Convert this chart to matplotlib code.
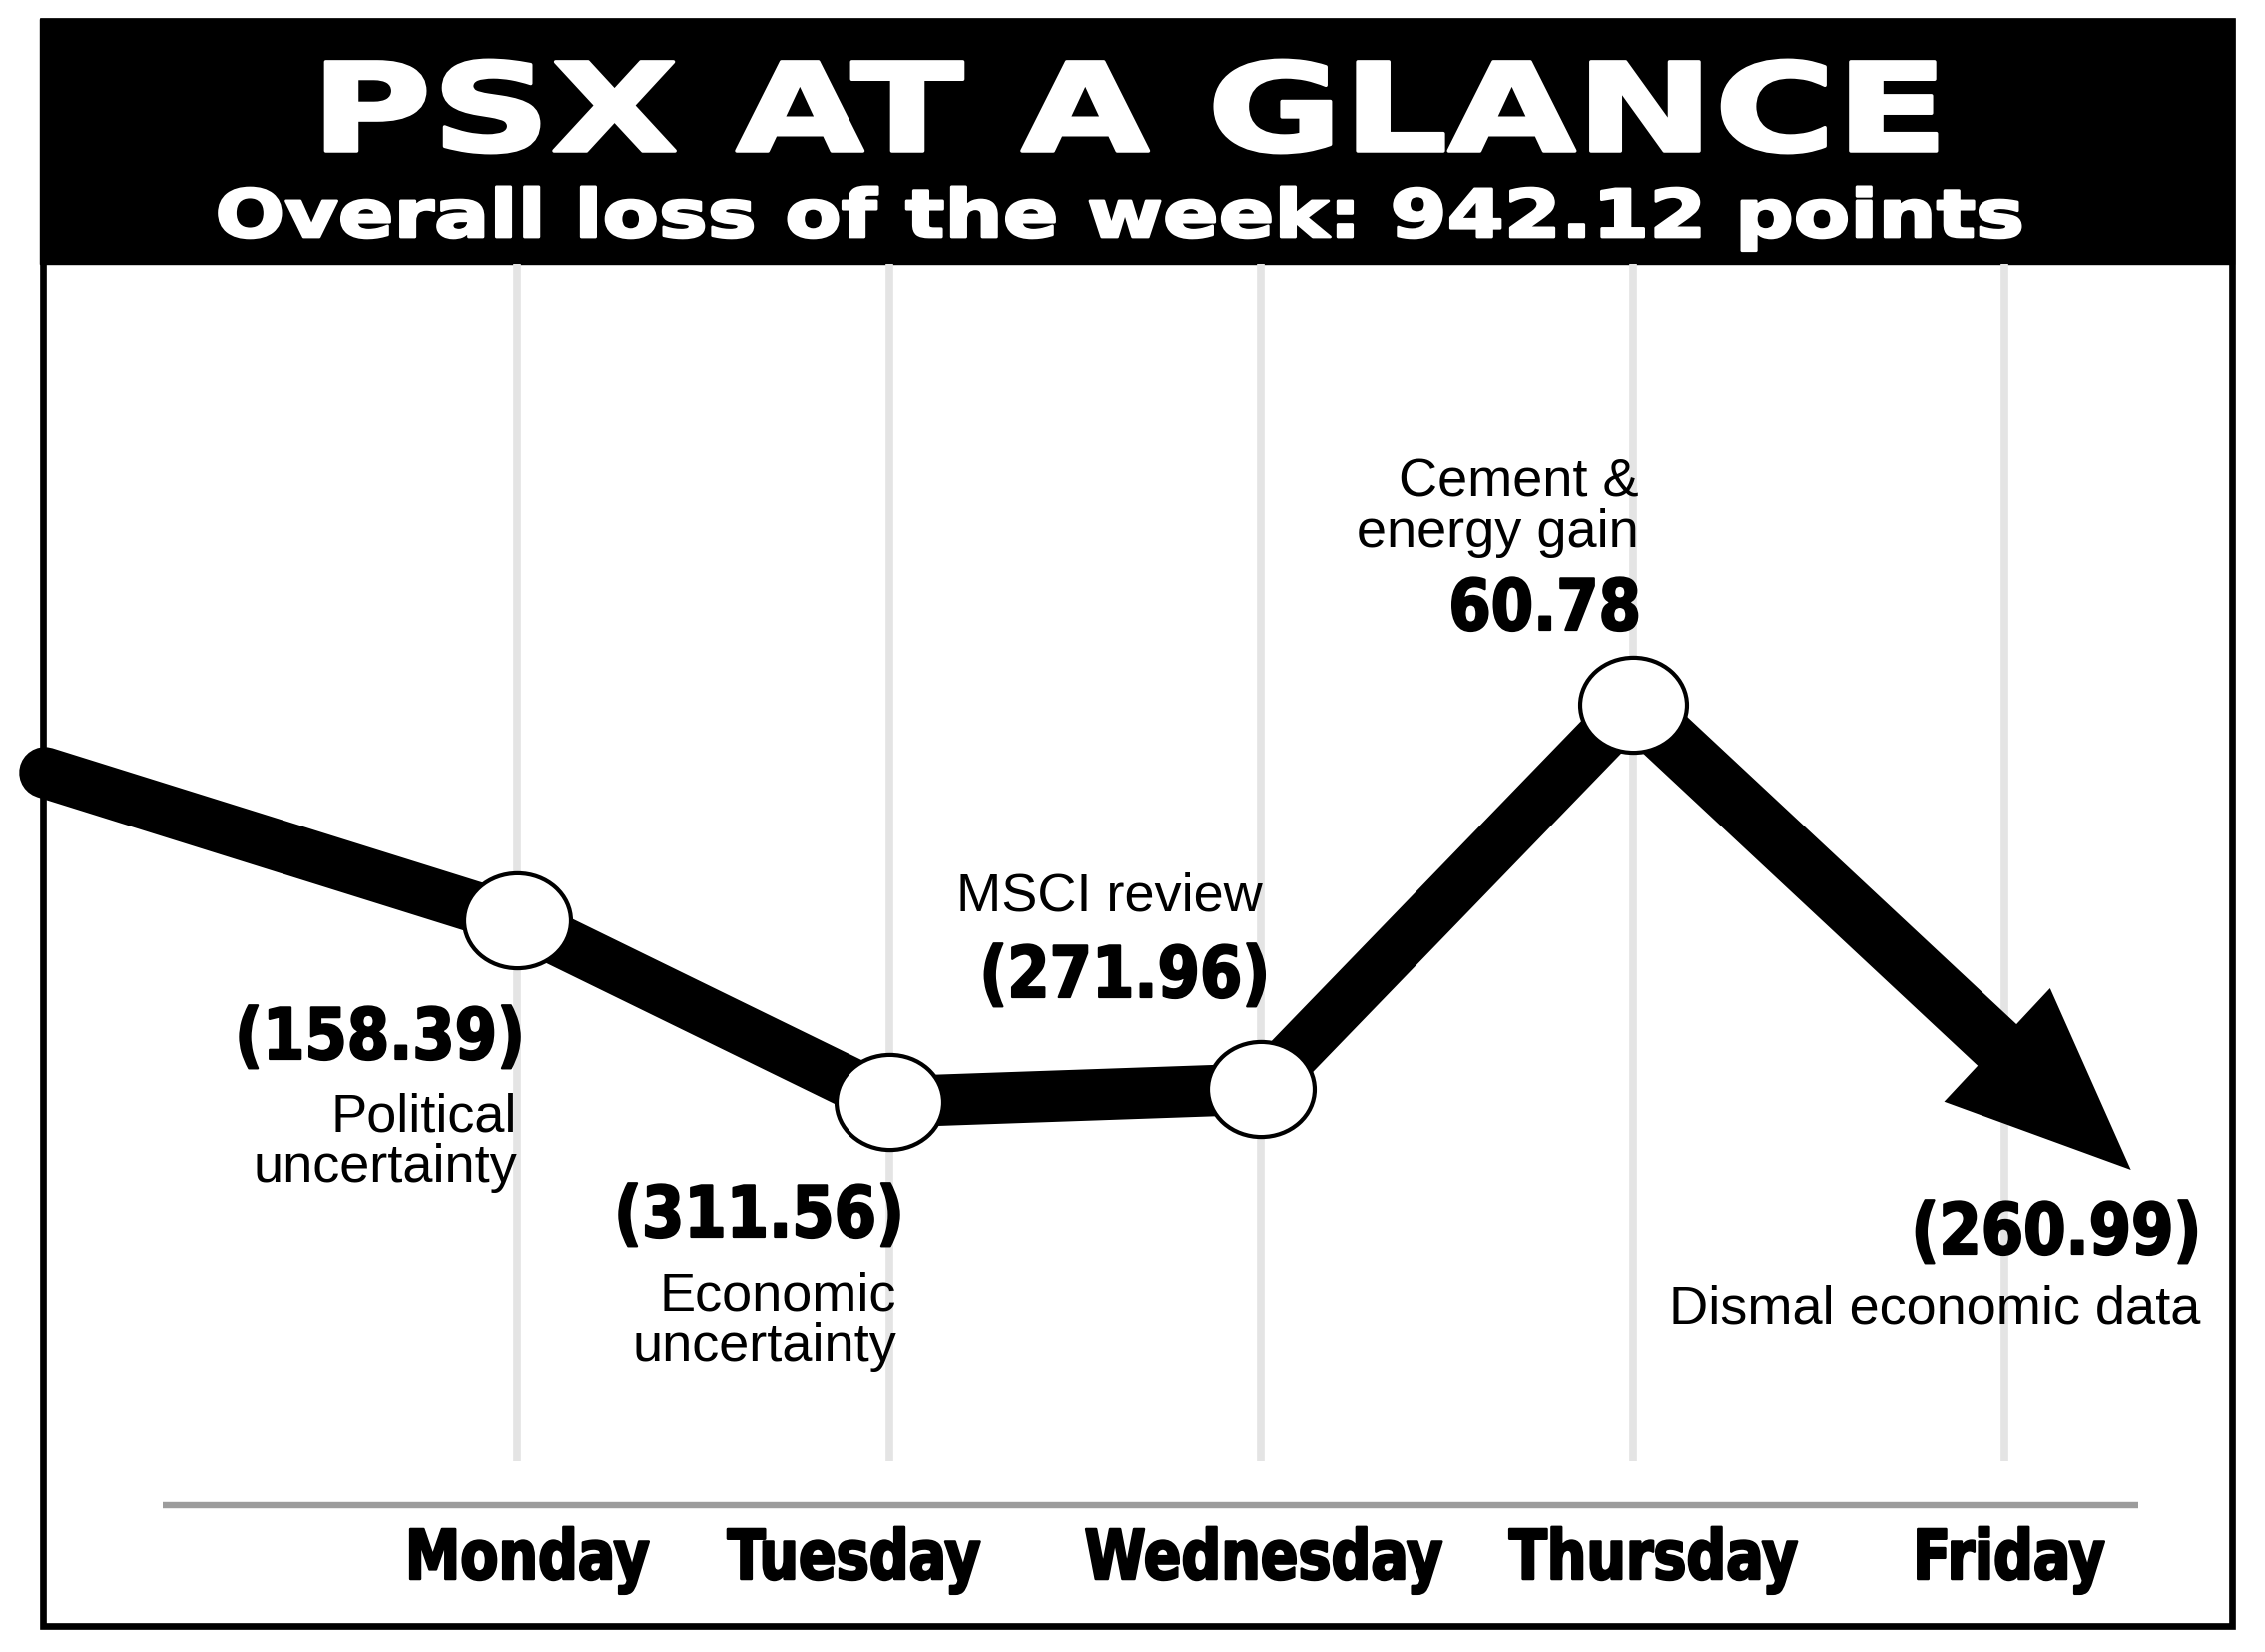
import matplotlib
matplotlib.use("Agg")
import matplotlib.pyplot as plt
from matplotlib import patheffects
from matplotlib.markers import MarkerStyle
from matplotlib.patches import Rectangle
from matplotlib.transforms import Affine2D

# weekly PSX changes (points)
days = ["Monday", "Tuesday", "Wednesday", "Thursday", "Friday"]
changes = [-158.39, -311.56, -271.96, 60.78, -260.99]
reasons = ["Political\nuncertainty", "Economic\nuncertainty", "MSCI review",
           "Cement &\nenergy gain", "Dismal economic data"]

# schematic path of the drawn line: week start, Mon..Thu, Friday arrow tip
line_x = [-1.27, 0, 1, 2, 3, 4.34]
line_y = [73.4, 58.6, 40.4, 41.7, 80.2, 33.6]

# where the labels sit (right edge / centre, baseline)
value_pos = [(0.024, 44.7), (1.044, 26.9), (2.027, 50.9), (3.025, 87.7), (4.532, 25.2)]
reason_pos = [(0.0, 32.5), (1.02, 14.6), (2.005, 59.6), (3.017, 96.1), (4.526, 18.3)]
day_label_x = [0.027, 0.907, 2.008, 3.057, 4.011]

W, H = 2269, 1656


class Stretch(patheffects.AbstractPathEffect):
    """widen / narrow glyphs horizontally around an anchor, optional extra weight"""

    def __init__(self, sx, anchor="center", stroke=0):
        super().__init__()
        self.sx = sx
        self.anchor = anchor
        self.stroke = stroke

    def draw_path(self, renderer, gc, tpath, affine, rgbFace=None):
        bb = tpath.get_extents(affine)
        if self.anchor == "right":
            cx = bb.x1
        elif self.anchor == "left":
            cx = bb.x0
        else:
            cx = 0.5 * (bb.x0 + bb.x1)
        affine = affine + Affine2D().translate(-cx, 0).scale(self.sx, 1).translate(cx, 0)
        gc0 = renderer.new_gc()
        gc0.copy_properties(gc)
        if self.stroke:
            gc0.set_linewidth(self.stroke)
            gc0.set_foreground(rgbFace)
            gc0.set_joinstyle("round")
        renderer.draw_path(gc0, tpath, affine, rgbFace)
        gc0.restore()


def fmt(v):
    return f"({abs(v):.2f})" if v < 0 else f"{v:.2f}"


fig = plt.figure(figsize=(W / 100, H / 100), dpi=100, facecolor="white")
ax = fig.add_axes([0, 0, 1, 1])
# 372.5 px per day, 10 px per level unit, baseline at level 0
ax.set_xlim(-518 / 372.5, (W - 518) / 372.5)
ax.set_ylim(-(H - 1509) / 10, 1509 / 10)
ax.axis("off")

day_x = list(range(len(days)))

# frame and title band
ax.add_patch(Rectangle((40 / W, 1 - 265 / H), (2238 - 40) / W, (265 - 20) / H,
                       transform=ax.transAxes, color="black", zorder=0))
ax.add_patch(Rectangle((43 / W, 1 - 1630 / H), (2236 - 43) / W, (1630 - 22) / H,
                       transform=ax.transAxes, fill=False, ec="black", lw=4.8, zorder=0))

# light vertical day lines and gray base line
ax.vlines(day_x, 4.4, 124.4, color="#e4e4e4", lw=5.5, zorder=1)
ax.hlines(0, -0.953, 4.36, color="#9c9c9c", lw=4.6, zorder=1)

# thick black line, arrow for Friday
ax.plot(line_x[:-1], line_y[:-1], color="black", lw=37, solid_capstyle="round",
        solid_joinstyle="round", zorder=3)
ax.annotate("", xy=(line_x[-1], line_y[-1]), xytext=(line_x[-2], line_y[-2]),
            arrowprops=dict(arrowstyle="simple,head_length=132,head_width=112,tail_width=41",
                            mutation_scale=1, shrinkA=0, shrinkB=0,
                            fc="black", ec="black", lw=0), zorder=3)
ax.plot(line_x[1:-1], line_y[1:-1], ls="none",
        marker=MarkerStyle("o", transform=Affine2D().scale(1, 0.89)),
        ms=77, mfc="white", mec="black", mew=3, zorder=5)

# value and reason labels
for v, (vx, vy), r, (rx, ry) in zip(changes, value_pos, reasons, reason_pos):
    ax.text(vx, vy, fmt(v), ha="right", va="baseline", fontsize=51,
            family="DejaVu Sans", weight="bold",
            path_effects=[Stretch(0.86, "right", stroke=1.6)], zorder=6)
    ax.text(rx, ry, r, ha="right", ma="right", va="baseline", fontsize=39,
            family=["Liberation Sans", "DejaVu Sans"], linespacing=1.0, zorder=6)

for x, d in zip(day_label_x, days):
    ax.text(x, -7.4, d, ha="center", va="baseline", fontsize=49.4,
            family="DejaVu Sans", weight="bold",
            path_effects=[Stretch(0.81, stroke=1.8)], zorder=6)

# header
total = sum(changes)
fig.text(1132 / W, 1 - 152 / H, "PSX AT A GLANCE", ha="center", va="baseline",
         color="white", fontsize=88, family="DejaVu Sans", weight="bold",
         path_effects=[Stretch(1.355, stroke=2.5)])
fig.text(1122 / W, 1 - 238 / H,
         f"Overall {'loss' if total < 0 else 'gain'} of the week: {abs(total):.2f} points",
         ha="center", va="baseline", color="white", fontsize=47.5,
         family="DejaVu Sans", weight="bold", path_effects=[Stretch(1.245, stroke=2)])

fig.savefig("out.png", dpi=100, facecolor="white")
